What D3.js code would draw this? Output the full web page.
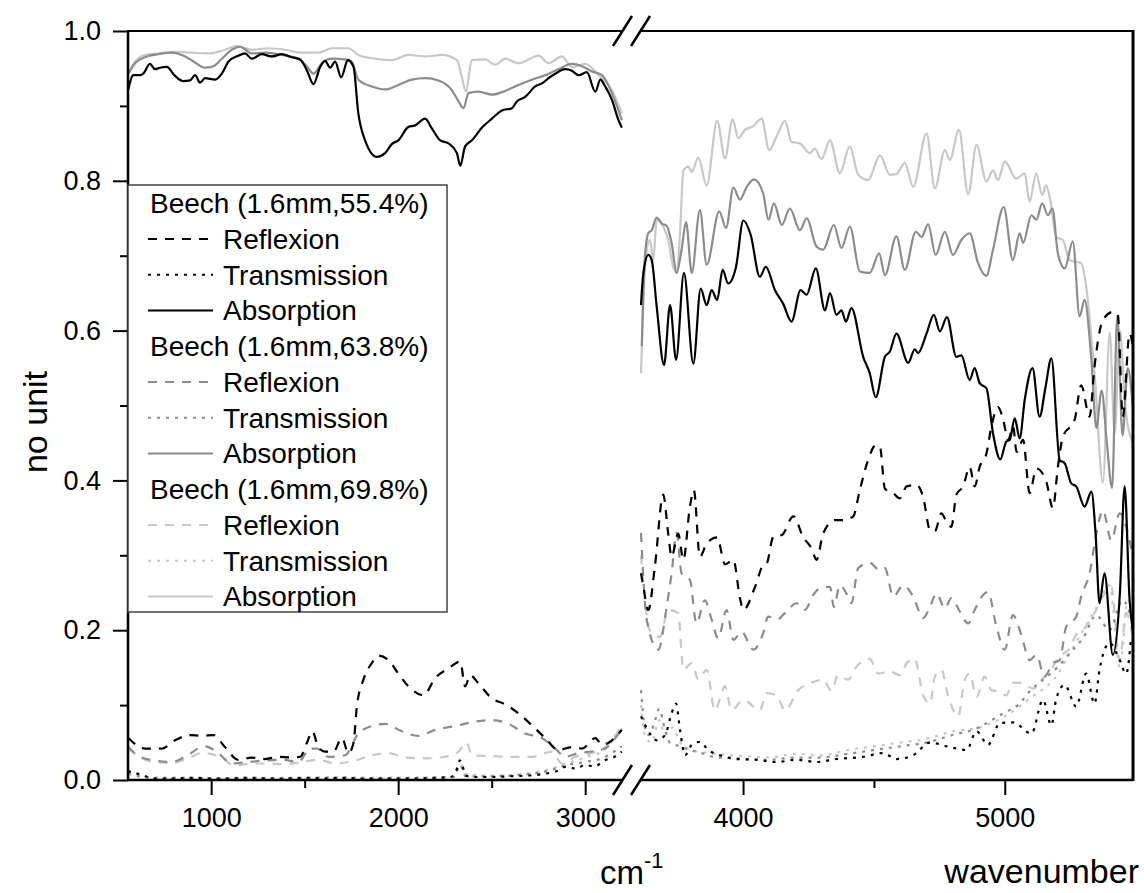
<!DOCTYPE html>
<html>
<head>
<meta charset="utf-8">
<script src="https://cdn.jsdelivr.net/npm/d3@7"></script>
<style>
body { margin: 0; background: #fff; }
svg text { font-family: "Liberation Sans", Arial, sans-serif; fill: #000; }
</style>
</head>
<body>
<svg id="chart" width="1144" height="893"></svg>
<script>
// ---- data: [wavenumber, value] ----
// left part of the broken axis (550 - 3200 cm-1)
const abs55Left = [[557,0.922],[584,0.941],[620,0.941],[637,0.943],[673,0.956],[700,0.949],[727,0.951],[762,0.952],[807,0.940],[851,0.933],[887,0.934],[914,0.941],[941,0.931],[967,0.937],[1021,0.935],[1057,0.943],[1092,0.959],[1145,0.967],[1181,0.970],[1217,0.963],[1271,0.969],[1324,0.966],[1378,0.969],[1431,0.965],[1476,0.962],[1511,0.948],[1547,0.929],[1583,0.952],[1609,0.960],[1636,0.951],[1663,0.959],[1695,0.938],[1731,0.961],[1761,0.952],[1787,0.890],[1823,0.854],[1886,0.832],[1930,0.837],[1966,0.849],[2001,0.854],[2055,0.872],[2091,0.874],[2144,0.883],[2180,0.870],[2225,0.854],[2269,0.850],[2314,0.837],[2332,0.820],[2358,0.846],[2394,0.854],[2448,0.871],[2501,0.883],[2555,0.894],[2608,0.897],[2635,0.906],[2679,0.912],[2733,0.926],[2769,0.930],[2804,0.937],[2840,0.943],[2893,0.949],[2929,0.947],[2965,0.941],[3009,0.945],[3054,0.919],[3081,0.935],[3107,0.926],[3143,0.908],[3178,0.881],[3196,0.871]];
const abs64Left = [[557,0.943],[593,0.957],[646,0.965],[717,0.969],[789,0.971],[843,0.968],[896,0.961],[967,0.951],[1012,0.953],[1057,0.963],[1110,0.975],[1155,0.979],[1217,0.970],[1288,0.971],[1378,0.968],[1467,0.963],[1511,0.953],[1547,0.943],[1592,0.957],[1645,0.963],[1716,0.962],[1752,0.959],[1787,0.935],[1859,0.926],[1930,0.922],[2001,0.928],[2073,0.935],[2144,0.937],[2215,0.934],[2287,0.921],[2323,0.906],[2349,0.897],[2376,0.917],[2429,0.919],[2501,0.915],[2572,0.920],[2643,0.928],[2715,0.935],[2786,0.941],[2857,0.949],[2929,0.956],[2983,0.953],[3036,0.946],[3090,0.941],[3143,0.917],[3196,0.881]];
const abs70Left = [[557,0.943],[593,0.959],[646,0.968],[717,0.970],[807,0.972],[896,0.971],[985,0.970],[1074,0.975],[1137,0.980],[1217,0.975],[1306,0.977],[1395,0.975],[1484,0.971],[1574,0.971],[1645,0.977],[1734,0.977],[1787,0.968],[1877,0.963],[1966,0.961],[2055,0.968],[2144,0.966],[2233,0.968],[2314,0.961],[2340,0.939],[2362,0.919],[2394,0.961],[2465,0.962],[2519,0.955],[2572,0.963],[2643,0.957],[2751,0.967],[2804,0.957],[2875,0.966],[2929,0.952],[3000,0.956],[3072,0.941],[3143,0.921],[3196,0.890]];
const ref55Left = [[557,0.056],[646,0.042],[736,0.042],[807,0.053],[887,0.060],[950,0.059],[1012,0.060],[1074,0.044],[1145,0.027],[1217,0.030],[1288,0.028],[1359,0.031],[1431,0.030],[1476,0.031],[1511,0.049],[1541,0.065],[1573,0.044],[1609,0.038],[1654,0.038],[1699,0.056],[1734,0.036],[1761,0.049],[1779,0.098],[1814,0.134],[1859,0.156],[1895,0.166],[1948,0.160],[2001,0.142],[2055,0.125],[2135,0.113],[2198,0.136],[2269,0.149],[2332,0.158],[2358,0.125],[2385,0.140],[2429,0.129],[2501,0.109],[2572,0.101],[2643,0.089],[2715,0.073],[2786,0.056],[2857,0.040],[2929,0.044],[2983,0.042],[3054,0.056],[3090,0.047],[3143,0.053],[3196,0.067]];
const ref64Left = [[557,0.044],[620,0.031],[700,0.026],[789,0.024],[860,0.031],[967,0.045],[1038,0.036],[1110,0.022],[1199,0.024],[1288,0.026],[1378,0.027],[1467,0.024],[1529,0.042],[1565,0.042],[1627,0.031],[1716,0.033],[1787,0.062],[1859,0.072],[1930,0.075],[2019,0.065],[2109,0.059],[2198,0.067],[2305,0.072],[2412,0.078],[2501,0.080],[2590,0.075],[2679,0.062],[2768,0.056],[2840,0.042],[2893,0.031],[2965,0.036],[3036,0.038],[3107,0.042],[3161,0.056],[3196,0.067]];
const ref70Left = [[557,0.042],[620,0.030],[700,0.024],[789,0.023],[878,0.029],[950,0.036],[1056,0.030],[1127,0.019],[1217,0.022],[1306,0.022],[1395,0.021],[1484,0.024],[1574,0.027],[1663,0.022],[1770,0.026],[1859,0.033],[1948,0.036],[2037,0.030],[2144,0.029],[2251,0.031],[2323,0.038],[2367,0.050],[2394,0.033],[2501,0.032],[2608,0.031],[2715,0.031],[2822,0.038],[2875,0.022],[2947,0.031],[3036,0.036],[3107,0.044],[3196,0.072]];
const tra55Left = [[557,0.013],[580,0.009],[620,0.008],[660,0.004],[700,0.002],[800,0.002],[900,0.003],[1000,0.002],[1100,0.002],[1200,0.003],[1300,0.002],[1400,0.002],[1500,0.003],[1600,0.002],[1700,0.003],[1800,0.002],[1900,0.002],[2000,0.002],[2100,0.002],[2200,0.003],[2280,0.004],[2310,0.012],[2330,0.026],[2345,0.018],[2360,0.006],[2400,0.004],[2500,0.004],[2600,0.005],[2700,0.006],[2800,0.009],[2850,0.012],[2900,0.018],[2950,0.015],[3000,0.020],[3050,0.018],[3100,0.026],[3150,0.030],[3196,0.038]];
const tra64Left = [[557,0.010],[600,0.006],[700,0.003],[800,0.003],[1000,0.002],[1200,0.003],[1400,0.002],[1600,0.003],[1800,0.002],[2000,0.003],[2200,0.003],[2300,0.004],[2330,0.020],[2360,0.005],[2500,0.005],[2700,0.008],[2800,0.012],[2900,0.020],[3000,0.024],[3100,0.030],[3196,0.045]];
const tra70Left = [[557,0.008],[600,0.005],[700,0.003],[900,0.003],[1100,0.002],[1300,0.003],[1500,0.003],[1700,0.004],[1900,0.003],[2100,0.003],[2300,0.005],[2330,0.028],[2360,0.008],[2500,0.006],[2700,0.009],[2800,0.014],[2900,0.022],[3000,0.030],[3100,0.040],[3196,0.070]];

// right part of the broken axis (3610 - 5490 cm-1)
const abs55Right = [[3610,0.634],[3619,0.677],[3638,0.701],[3651,0.694],[3670,0.632],[3698,0.554],[3721,0.634],[3744,0.561],[3774,0.677],[3810,0.556],[3838,0.656],[3861,0.634],[3880,0.654],[3901,0.641],[3922,0.681],[3943,0.663],[3973,0.685],[4001,0.747],[4029,0.728],[4064,0.672],[4087,0.685],[4122,0.654],[4153,0.636],[4185,0.612],[4220,0.654],[4243,0.648],[4278,0.683],[4313,0.627],[4332,0.650],[4357,0.621],[4376,0.627],[4393,0.612],[4414,0.630],[4459,0.565],[4484,0.543],[4507,0.511],[4542,0.565],[4561,0.572],[4586,0.596],[4631,0.557],[4656,0.575],[4669,0.570],[4701,0.596],[4729,0.621],[4752,0.599],[4779,0.618],[4815,0.565],[4834,0.567],[4866,0.534],[4885,0.550],[4904,0.530],[4930,0.523],[4955,0.463],[4983,0.428],[5006,0.452],[5019,0.454],[5038,0.483],[5057,0.456],[5076,0.507],[5106,0.550],[5133,0.485],[5156,0.525],[5178,0.563],[5210,0.427],[5229,0.423],[5254,0.396],[5273,0.392],[5305,0.365],[5331,0.385],[5347,0.329],[5362,0.236],[5381,0.276],[5413,0.167],[5440,0.250],[5458,0.392],[5477,0.240],[5489,0.200]];
const abs64Right = [[3613,0.579],[3625,0.699],[3638,0.730],[3651,0.734],[3670,0.751],[3689,0.743],[3708,0.740],[3727,0.717],[3746,0.677],[3765,0.708],[3782,0.745],[3804,0.677],[3835,0.761],[3861,0.688],[3909,0.759],[3935,0.737],[3963,0.791],[3988,0.775],[4014,0.792],[4042,0.802],[4077,0.783],[4097,0.748],[4118,0.770],[4148,0.741],[4179,0.763],[4217,0.734],[4243,0.750],[4281,0.712],[4306,0.708],[4347,0.741],[4376,0.710],[4408,0.739],[4446,0.679],[4484,0.677],[4520,0.703],[4542,0.674],[4586,0.726],[4618,0.681],[4660,0.732],[4682,0.725],[4707,0.742],[4736,0.701],[4771,0.732],[4802,0.701],[4834,0.721],[4866,0.730],[4898,0.690],[4930,0.673],[4955,0.708],[4996,0.765],[5031,0.694],[5057,0.730],[5070,0.717],[5102,0.754],[5121,0.748],[5143,0.770],[5165,0.754],[5182,0.763],[5203,0.703],[5229,0.683],[5260,0.719],[5286,0.619],[5305,0.641],[5331,0.561],[5350,0.470],[5370,0.520],[5390,0.450],[5410,0.390],[5430,0.620],[5450,0.460],[5470,0.550],[5489,0.500]];
const abs70Right = [[3610,0.543],[3619,0.641],[3632,0.708],[3644,0.721],[3657,0.694],[3670,0.748],[3695,0.739],[3714,0.721],[3733,0.685],[3746,0.677],[3759,0.730],[3772,0.814],[3791,0.819],[3804,0.812],[3829,0.831],[3861,0.794],[3901,0.880],[3931,0.830],[3960,0.882],[3982,0.857],[4007,0.868],[4039,0.873],[4071,0.883],[4100,0.841],[4128,0.859],[4160,0.880],[4185,0.852],[4217,0.850],[4255,0.837],[4274,0.843],[4300,0.829],[4332,0.854],[4370,0.810],[4408,0.846],[4440,0.808],[4478,0.801],[4523,0.834],[4561,0.808],[4586,0.809],[4618,0.824],[4650,0.792],[4701,0.863],[4733,0.790],[4771,0.841],[4790,0.828],[4825,0.868],[4860,0.782],[4892,0.848],[4930,0.799],[4955,0.814],[4974,0.801],[5000,0.826],[5044,0.803],[5076,0.810],[5095,0.772],[5120,0.810],[5143,0.781],[5158,0.794],[5174,0.774],[5196,0.725],[5222,0.721],[5248,0.694],[5292,0.690],[5311,0.659],[5330,0.596],[5345,0.534],[5375,0.397],[5401,0.597],[5420,0.463],[5440,0.600],[5460,0.500],[5489,0.450]];
const ref55Right = [[3610,0.276],[3619,0.258],[3638,0.227],[3663,0.285],[3695,0.381],[3714,0.329],[3727,0.298],[3752,0.329],[3772,0.294],[3797,0.365],[3812,0.387],[3835,0.298],[3861,0.316],[3901,0.324],[3931,0.288],[3963,0.294],[3988,0.243],[4001,0.227],[4046,0.258],[4077,0.287],[4090,0.289],[4116,0.325],[4148,0.327],[4192,0.352],[4230,0.324],[4262,0.309],[4281,0.294],[4306,0.329],[4351,0.347],[4383,0.347],[4421,0.352],[4446,0.387],[4474,0.423],[4507,0.447],[4523,0.445],[4542,0.389],[4574,0.383],[4599,0.376],[4625,0.392],[4663,0.394],[4688,0.378],[4714,0.334],[4733,0.332],[4758,0.356],[4777,0.345],[4796,0.338],[4815,0.381],[4841,0.392],[4866,0.418],[4885,0.392],[4904,0.418],[4930,0.436],[4949,0.472],[4974,0.498],[4994,0.481],[5013,0.454],[5032,0.472],[5045,0.438],[5070,0.454],[5095,0.383],[5121,0.416],[5159,0.398],[5184,0.363],[5203,0.418],[5222,0.458],[5267,0.481],[5292,0.527],[5324,0.485],[5343,0.552],[5375,0.614],[5413,0.625],[5432,0.621],[5451,0.485],[5477,0.596],[5489,0.580]];
const ref64Right = [[3610,0.330],[3632,0.214],[3676,0.174],[3708,0.231],[3727,0.276],[3746,0.330],[3765,0.276],[3797,0.267],[3822,0.209],[3854,0.240],[3880,0.214],[3905,0.189],[3937,0.227],[3963,0.187],[3994,0.198],[4039,0.174],[4077,0.196],[4096,0.218],[4128,0.214],[4166,0.225],[4204,0.236],[4236,0.227],[4268,0.247],[4293,0.256],[4332,0.258],[4347,0.231],[4370,0.260],[4395,0.249],[4414,0.236],[4440,0.283],[4484,0.290],[4523,0.280],[4542,0.283],[4574,0.245],[4612,0.260],[4650,0.245],[4688,0.216],[4714,0.231],[4739,0.249],[4771,0.229],[4796,0.243],[4828,0.225],[4860,0.209],[4885,0.227],[4917,0.247],[4936,0.251],[4968,0.205],[5000,0.174],[5031,0.220],[5063,0.194],[5095,0.160],[5121,0.167],[5152,0.138],[5184,0.156],[5210,0.160],[5235,0.205],[5273,0.218],[5292,0.245],[5324,0.276],[5350,0.329],[5375,0.360],[5407,0.320],[5439,0.356],[5489,0.300]];
const ref70Right = [[3610,0.300],[3644,0.200],[3682,0.191],[3714,0.227],[3752,0.223],[3772,0.147],[3804,0.156],[3829,0.134],[3861,0.147],[3892,0.093],[3931,0.125],[3956,0.093],[4001,0.107],[4064,0.093],[4090,0.116],[4128,0.113],[4160,0.093],[4211,0.120],[4262,0.130],[4306,0.134],[4338,0.119],[4363,0.140],[4401,0.134],[4433,0.151],[4484,0.162],[4516,0.142],[4561,0.145],[4599,0.140],[4625,0.156],[4656,0.162],[4688,0.113],[4714,0.102],[4733,0.138],[4758,0.147],[4783,0.113],[4822,0.085],[4847,0.134],[4866,0.142],[4892,0.111],[4923,0.138],[4949,0.120],[4981,0.118],[5006,0.113],[5031,0.130],[5070,0.129],[5108,0.122],[5146,0.136],[5171,0.145],[5210,0.165],[5248,0.176],[5273,0.194],[5311,0.205],[5343,0.223],[5375,0.245],[5407,0.258],[5439,0.160],[5464,0.223],[5489,0.191]];
const tra55Right = [[3610,0.085],[3644,0.062],[3670,0.053],[3702,0.060],[3727,0.089],[3744,0.102],[3759,0.067],[3778,0.033],[3804,0.047],[3835,0.051],[3867,0.040],[3912,0.033],[3975,0.028],[4052,0.027],[4128,0.024],[4204,0.027],[4281,0.024],[4357,0.028],[4459,0.031],[4535,0.036],[4586,0.028],[4650,0.033],[4713,0.050],[4790,0.044],[4854,0.040],[4892,0.065],[4936,0.047],[4981,0.076],[5031,0.077],[5102,0.062],[5146,0.107],[5178,0.073],[5197,0.109],[5229,0.127],[5273,0.098],[5311,0.142],[5343,0.102],[5362,0.147],[5401,0.183],[5439,0.160],[5464,0.142],[5483,0.191]];
const tra64Right = [[3610,0.120],[3625,0.070],[3640,0.060],[3660,0.075],[3680,0.095],[3700,0.070],[3720,0.050],[3760,0.045],[3800,0.040],[3850,0.035],[3900,0.030],[3950,0.030],[4000,0.028],[4100,0.027],[4200,0.030],[4300,0.030],[4400,0.035],[4500,0.040],[4600,0.045],[4700,0.050],[4800,0.060],[4900,0.070],[4950,0.080],[5000,0.090],[5050,0.100],[5100,0.120],[5150,0.135],[5200,0.150],[5250,0.170],[5300,0.190],[5350,0.220],[5400,0.200],[5450,0.240],[5489,0.210]];
const tra70Right = [[3610,0.100],[3625,0.060],[3650,0.050],[3680,0.080],[3700,0.060],[3730,0.070],[3760,0.050],[3800,0.040],[3900,0.035],[4000,0.032],[4100,0.030],[4200,0.035],[4300,0.033],[4400,0.040],[4500,0.045],[4600,0.050],[4700,0.055],[4800,0.065],[4900,0.070],[5000,0.085],[5100,0.110],[5200,0.140],[5250,0.170],[5300,0.200],[5350,0.230],[5400,0.260],[5440,0.150],[5470,0.240],[5489,0.200]];

const samples = ["Beech (1.6mm,55.4%)", "Beech (1.6mm,63.8%)", "Beech (1.6mm,69.8%)"];
const kinds = ["Reflexion", "Transmission", "Absorption"];
const yTicks = [0, 0.2, 0.4, 0.6, 0.8, 1.0];
const yMinor = [0.1, 0.3, 0.5, 0.7, 0.9];
const xTicksLeft = [1000, 2000, 3000];
const xMinorLeft = [1500, 2500];
const xTicksRight = [4000, 5000];
const xMinorRight = [4500];

// styling
const colors = ["#000000", "#8c8c8c", "#c8c8c8"];
const dashes = ["9,8", "3,6", null];

const series = [
    [ref55Left, ref55Right, tra55Left, tra55Right, abs55Left, abs55Right],
    [ref64Left, ref64Right, tra64Left, tra64Right, abs64Left, abs64Right],
    [ref70Left, ref70Right, tra70Left, tra70Right, abs70Left, abs70Right]
];

const svg = d3.select("#chart");
const plotTop = 31, plotBottom = 780, plotLeft = 127, plotRight = 1133;
const gapL = 623, gapR = 641;

const xLeft = d3.scaleLinear().domain([550, 3200]).range([plotLeft, 622.6]);
const xRight = d3.scaleLinear().domain([3610, 5490]).range([gapR, plotRight]);
const y = d3.scaleLinear().domain([0, 1]).range([plotBottom, plotTop]);

svg.append("defs").append("clipPath").attr("id", "plotclip")
    .append("rect").attr("x", plotLeft).attr("y", plotTop)
    .attr("width", plotRight - plotLeft).attr("height", plotBottom - plotTop);

const plot = svg.append("g").attr("clip-path", "url(#plotclip)");

function makeLine(xs) {
    return d3.line()
        .x(d => xs(d[0]))
        .y(d => y(d[1]))
        .curve(d3.curveMonotoneX);
}
const lineLeft = makeLine(xLeft);
const lineRight = makeLine(xRight);

// draw the lightest sample first so black sits on top
[2, 1, 0].forEach(s => {
    kinds.forEach((k, ki) => {
        const parts = [[series[s][ki * 2], lineLeft], [series[s][ki * 2 + 1], lineRight]];
        parts.forEach(([data, gen]) => {
            plot.append("path")
                .attr("d", gen(data))
                .attr("fill", "none")
                .attr("stroke", colors[s])
                .attr("stroke-width", 2.2)
                .attr("stroke-dasharray", dashes[ki])
                .attr("stroke-linejoin", "round");
        });
    });
});

// axes
function styleAxis(g) {
    g.select(".domain").remove();
    g.selectAll(".tick line").attr("stroke", "#000").attr("stroke-width", 2);
    g.selectAll(".tick text").style("font-size", "27px").attr("fill", "#000");
}

svg.append("g").attr("transform", `translate(0,${plotBottom})`)
    .call(d3.axisBottom(xLeft).tickValues(xTicksLeft).tickSize(15).tickPadding(13).tickFormat(d3.format("d")))
    .call(styleAxis);
svg.append("g").attr("transform", `translate(0,${plotBottom})`)
    .call(d3.axisBottom(xLeft).tickValues(xMinorLeft).tickSize(8).tickFormat(""))
    .call(styleAxis);
svg.append("g").attr("transform", `translate(0,${plotBottom})`)
    .call(d3.axisBottom(xRight).tickValues(xTicksRight).tickSize(15).tickPadding(13).tickFormat(d3.format("d")))
    .call(styleAxis);
svg.append("g").attr("transform", `translate(0,${plotBottom})`)
    .call(d3.axisBottom(xRight).tickValues(xMinorRight).tickSize(8).tickFormat(""))
    .call(styleAxis);
svg.append("g").attr("transform", `translate(${plotLeft + 1},0)`)
    .call(d3.axisLeft(y).tickValues(yTicks).tickSize(15).tickPadding(12).tickFormat(d3.format(".1f")))
    .call(styleAxis);
svg.append("g").attr("transform", `translate(${plotLeft + 1},0)`)
    .call(d3.axisLeft(y).tickValues(yMinor).tickSize(8).tickFormat(""))
    .call(styleAxis);

// frame with the axis break
const frame = svg.append("g").attr("stroke", "#000").attr("fill", "none");
frame.append("line").attr("x1", plotLeft).attr("x2", gapL).attr("y1", plotBottom).attr("y2", plotBottom).attr("stroke-width", 2.5);
frame.append("line").attr("x1", gapR).attr("x2", plotRight).attr("y1", plotBottom).attr("y2", plotBottom).attr("stroke-width", 2.5);
frame.append("line").attr("x1", plotLeft).attr("x2", gapL).attr("y1", plotTop).attr("y2", plotTop).attr("stroke-width", 2);
frame.append("line").attr("x1", gapR).attr("x2", plotRight).attr("y1", plotTop).attr("y2", plotTop).attr("stroke-width", 2);
frame.append("line").attr("x1", plotLeft + 1).attr("x2", plotLeft + 1).attr("y1", plotTop).attr("y2", plotBottom + 1).attr("stroke-width", 2.5);
frame.append("line").attr("x1", plotRight).attr("x2", plotRight).attr("y1", plotTop - 1).attr("y2", plotBottom + 1).attr("stroke-width", 3);
[plotTop, plotBottom].forEach(yy => {
    [0, 18].forEach(dx => {
        frame.append("line")
            .attr("x1", 613 + dx).attr("y1", yy + 15)
            .attr("x2", 632 + dx).attr("y2", yy - 15)
            .attr("stroke-width", 2.5);
    });
});

// axis titles
svg.append("text").attr("x", 1139).attr("y", 883).attr("text-anchor", "end")
    .style("font-size", "34px").text("wavenumber");
const cm = svg.append("text").attr("x", 600).attr("y", 884).style("font-size", "33px");
cm.append("tspan").text("cm");
cm.append("tspan").attr("dy", -16).style("font-size", "22px").text("-1");
svg.append("text")
    .attr("transform", "translate(47,422) rotate(-90)")
    .attr("text-anchor", "middle")
    .style("font-size", "34px").text("no unit");

// legend
const legend = svg.append("g");
legend.append("rect")
    .attr("x", 128).attr("y", 185).attr("width", 319).attr("height", 427)
    .attr("fill", "#fff").attr("stroke", "#444").attr("stroke-width", 1.5);
const rowH = 35.75, row0 = 203.3;
samples.forEach((name, s) => {
    const base = row0 + s * 4 * rowH;
    legend.append("text").attr("x", 150).attr("y", base).attr("dy", "0.35em")
        .style("font-size", "28px").text(name);
    kinds.forEach((k, ki) => {
        const yy = base + (ki + 1) * rowH;
        legend.append("line")
            .attr("x1", 148).attr("x2", 213).attr("y1", yy).attr("y2", yy)
            .attr("stroke", colors[s]).attr("stroke-width", 2)
            .attr("stroke-dasharray", dashes[ki]);
        legend.append("text").attr("x", 223).attr("y", yy).attr("dy", "0.35em")
            .style("font-size", "28px").text(k);
    });
});
</script>
</body>
</html>
